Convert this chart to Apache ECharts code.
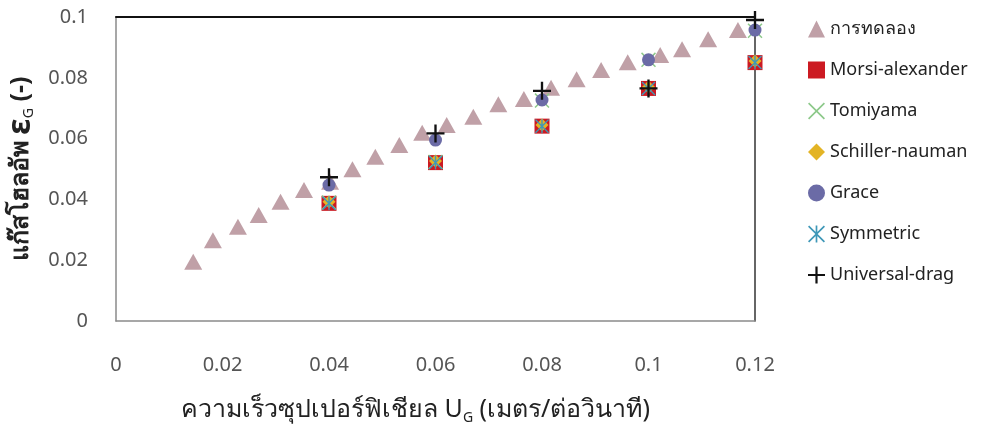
<!DOCTYPE html>
<html>
<head>
<meta charset="utf-8">
<script src="https://cdn.jsdelivr.net/npm/echarts@6/dist/echarts.min.js"></script>
<style>
  html, body { margin: 0; padding: 0; background: #fff; }
  #main { width: 1002px; height: 431px; }
</style>
</head>
<body>
<div id="main"></div>
<script>
// experiment points (การทดลอง)
var expX = [0.0145, 0.0182, 0.0229, 0.0268, 0.0309, 0.0353, 0.0402, 0.0444, 0.0487, 0.0532, 0.0575, 0.0621,
            0.0671, 0.0718, 0.0766, 0.0817, 0.0865, 0.0911, 0.0961, 0.1022, 0.1063, 0.1112, 0.1168];
var expY = [0.0195, 0.0266, 0.0310, 0.0349, 0.0392, 0.0431, 0.0458, 0.0499, 0.0540, 0.0579, 0.0619, 0.0645,
            0.0672, 0.0713, 0.0730, 0.0767, 0.0795, 0.0826, 0.0851, 0.0875, 0.0894, 0.0927, 0.0957];

// model predictions
var modelX = [0.04, 0.06, 0.08, 0.1, 0.12];
var morsi = [0.0387, 0.0521, 0.0641, 0.0765, 0.0850];
var tomiyama = [0.0390, 0.0523, 0.0725, 0.0859, 0.0955];
var schiller = [0.0392, 0.0526, 0.0645, 0.0770, 0.0855];
var grace = [0.0447, 0.0595, 0.0727, 0.0859, 0.0957];
var symmetric = [0.0387, 0.0521, 0.0641, 0.0765, 0.0850];
var universal = [0.0473, 0.0617, 0.0757, 0.0765, 0.0990];

var xTicks = ['0', '0.02', '0.04', '0.06', '0.08', '0.1', '0.12'];
var yTicks = ['0', '0.02', '0.04', '0.06', '0.08', '0.1'];

function pairs(xs, ys) {
    return xs.map(function (x, i) { return [x, ys[i]]; });
}

var plusPath = 'path://M0,4.35H10V5.65H0Z M4.35,0H5.65V10H4.35Z';
var crossPath = 'path://M0.7,0L5,4.3L9.3,0L10,0.7L5.7,5L10,9.3L9.3,10L5,5.7L0.7,10L0,9.3L4.3,5L0,0.7Z';
var starPath = 'path://M0.7,0L5,4.3L9.3,0L10,0.7L5.7,5L10,9.3L9.3,10L5,5.7L0.7,10L0,9.3L4.3,5L0,0.7Z M4.5,0H5.5V10H4.5Z';

var textFont = "'Noto Sans', 'DejaVu Sans', sans-serif";

var myChart = echarts.init(document.getElementById('main'));
var option = {
    backgroundColor: '#fff',
    animation: false,
    grid: {left: 116, right: 247, top: 17, bottom: 110, outerBoundsMode: 'none'},
    legend: {
        orient: 'vertical',
        left: 803,
        top: 15,
        itemWidth: 17,
        itemHeight: 17,
        itemGap: 23,
        textStyle: {fontSize: 18, color: '#222', fontFamily: textFont, lineHeight: 18},
        data: ['การทดลอง', 'Morsi-alexander', 'Tomiyama', 'Schiller-nauman', 'Grace', 'Symmetric', 'Universal-drag']
    },
    xAxis: [
        {
            type: 'value',
            min: 0,
            max: 0.12,
            interval: 0.02,
            splitLine: {show: false},
            axisTick: {show: false},
            axisLine: {lineStyle: {color: '#8a8a8a', width: 1.5}},
            axisLabel: {
                margin: 34,
                fontSize: 20,
                color: '#555',
                fontFamily: textFont,
                formatter: function (v) { return xTicks[Math.round(v / 0.02)]; }
            },
            name: '{t|ความเร็วซุปเปอร์ฟิเชียล U}{s|G}{t| (เมตร/ต่อวินาที)}',
            nameLocation: 'middle',
            nameGap: 74,
            nameTextStyle: {
                padding: [0, 40, 0, 0],
                rich: {
                    t: {fontSize: 25, color: '#222', fontFamily: textFont},
                    s: {fontSize: 14, color: '#222', fontFamily: textFont, padding: [16, 0, 0, 0]}
                }
            }
        },
        {
            type: 'value',
            position: 'top',
            min: 0,
            max: 0.12,
            interval: 0.02,
            splitLine: {show: false},
            axisTick: {show: false},
            axisLabel: {show: false},
            axisLine: {show: true, onZero: false, lineStyle: {color: '#111', width: 2}}
        }
    ],
    yAxis: [
        {
            type: 'value',
            min: 0,
            max: 0.1,
            interval: 0.02,
            splitLine: {show: false},
            axisTick: {show: false},
            axisLine: {show: true, lineStyle: {color: '#8a8a8a', width: 1.5}},
            axisLabel: {
                margin: 28,
                fontSize: 20,
                color: '#555',
                fontFamily: textFont,
                formatter: function (v) { return yTicks[Math.round(v / 0.02)]; }
            },
            name: '{t|แก๊สโฮลอัพ }{e|ε}{s|G}{t| (-)}',
            nameLocation: 'middle',
            nameGap: 60,
            nameRotate: 90,
            nameTextStyle: {
                rich: {
                    t: {fontSize: 25, fontWeight: 'bold', color: '#222', fontFamily: textFont},
                    e: {fontSize: 33, fontWeight: 'bold', color: '#222', fontFamily: textFont},
                    s: {fontSize: 14, color: '#222', fontFamily: textFont, padding: [16, 0, 0, 0]}
                }
            }
        },
        {
            type: 'value',
            position: 'right',
            min: 0,
            max: 0.1,
            interval: 0.02,
            splitLine: {show: false},
            axisTick: {show: false},
            axisLabel: {show: false},
            axisLine: {show: true, onZero: false, lineStyle: {color: '#333', width: 1.5}}
        }
    ],
    series: [
        {
            name: 'การทดลอง',
            type: 'scatter',
            symbol: 'triangle',
            symbolSize: [18, 16],
            itemStyle: {color: '#c0a0a7', opacity: 1},
            data: pairs(expX, expY)
        },
        {
            name: 'Morsi-alexander',
            type: 'scatter',
            symbol: 'rect',
            symbolSize: 15,
            itemStyle: {color: '#cc1a22', opacity: 1},
            data: pairs(modelX, morsi)
        },
        {
            name: 'Tomiyama',
            type: 'scatter',
            symbol: crossPath,
            symbolSize: 15,
            itemStyle: {color: '#8dc98a', opacity: 1},
            data: pairs(modelX, tomiyama)
        },
        {
            name: 'Schiller-nauman',
            type: 'scatter',
            symbol: 'diamond',
            symbolSize: 13,
            itemStyle: {color: '#e3b425', opacity: 1},
            data: pairs(modelX, schiller)
        },
        {
            name: 'Grace',
            type: 'scatter',
            symbol: 'circle',
            symbolSize: 13,
            itemStyle: {color: '#6b6ba6', opacity: 1},
            data: pairs(modelX, grace)
        },
        {
            name: 'Symmetric',
            type: 'scatter',
            symbol: starPath,
            symbolSize: 14,
            itemStyle: {color: '#3f98b8', opacity: 1},
            data: pairs(modelX, symmetric)
        },
        {
            name: 'Universal-drag',
            type: 'scatter',
            symbol: plusPath,
            symbolSize: 18,
            itemStyle: {color: '#111', opacity: 1},
            data: pairs(modelX, universal)
        }
    ]
};
myChart.setOption(option);
</script>
</body>
</html>
